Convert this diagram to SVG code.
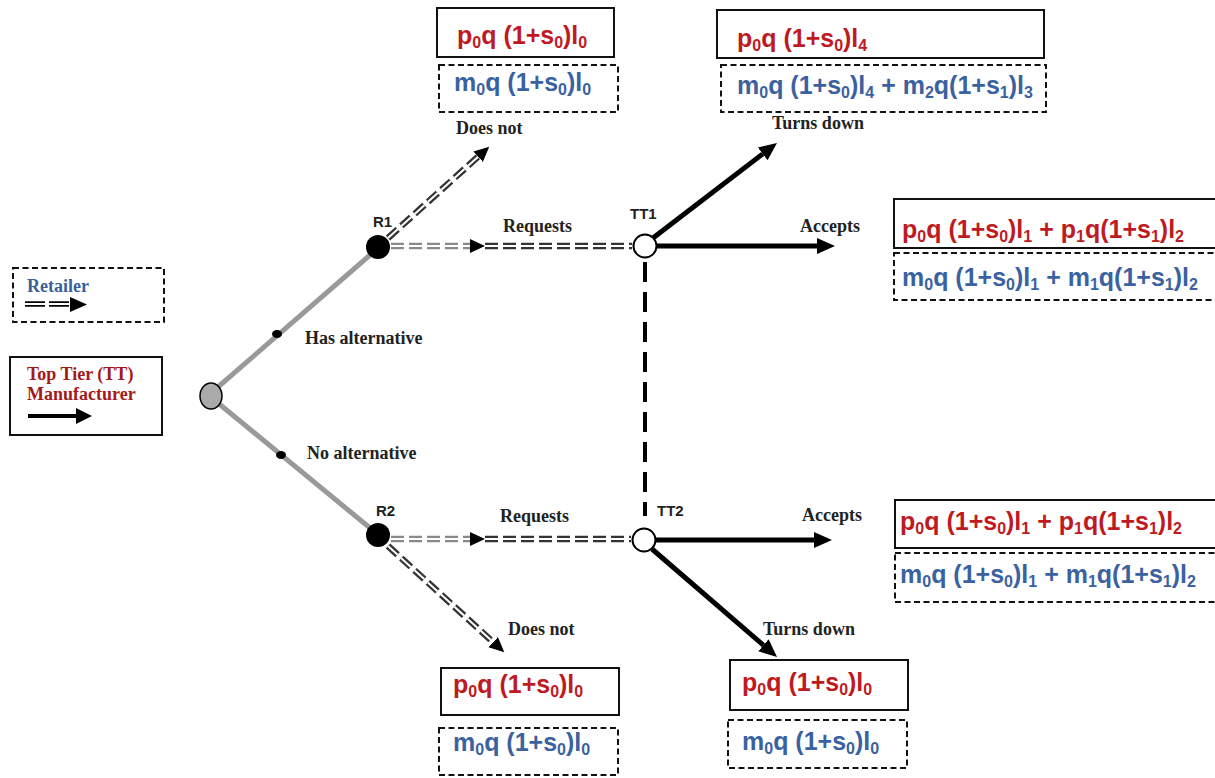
<svg xmlns="http://www.w3.org/2000/svg" width="1215" height="778" viewBox="0 0 1215 778">
<style>
.f{font-family:"Liberation Sans",Arial,sans-serif;font-weight:bold;font-size:25px}
.sb{font-size:16px}
.r{fill:#bf1a1f}
.b{fill:#3b62a0}
.lbl{font-family:"Liberation Serif","Times New Roman",serif;font-weight:bold;font-size:18px;fill:#222}
.nd{font-family:"Liberation Sans",Arial,sans-serif;font-weight:bold;font-size:15px;fill:#222}
.sbox{fill:#fff;stroke:#111;stroke-width:2}
.dbox{fill:#fff;stroke:#111;stroke-width:2;stroke-dasharray:6 3.5}
.thick{stroke:#000;stroke-width:5;fill:none}
.dbl{stroke:#333;stroke-width:6.5;stroke-dasharray:13 5;fill:none}
.dblg{stroke:#8a8a8a;stroke-width:6.5;stroke-dasharray:13 5;fill:none}
.dblw{stroke:#fff;stroke-width:2;stroke-dasharray:13 5;fill:none}
</style>
<defs>
<marker id="ah" markerUnits="userSpaceOnUse" markerWidth="20" markerHeight="18" refX="0" refY="8" orient="auto">
<path d="M0,0 L18,8 L0,16 z" fill="#000"/>
</marker>
<marker id="ar" markerUnits="userSpaceOnUse" markerWidth="17" markerHeight="16" refX="0" refY="7" orient="auto">
<path d="M0,0 L15,7 L0,14 z" fill="#000"/>
</marker>
</defs>
<rect width="1215" height="778" fill="#fff"/>

<g id="connectors">
<line x1="218" y1="387" x2="370" y2="255" stroke="#999" stroke-width="5"/>
<line x1="218" y1="403" x2="370" y2="528" stroke="#999" stroke-width="5"/>
<ellipse cx="277" cy="334" rx="5" ry="4" fill="#000"/>
<ellipse cx="281" cy="455" rx="5" ry="4" fill="#000"/>
<line x1="645" y1="262" x2="645" y2="516" stroke="#000" stroke-width="4" stroke-dasharray="20 10"/>
<line class="dblg" x1="391" y1="246" x2="470" y2="246" marker-end="url(#ar)"/>
<line class="dblw" x1="391" y1="246" x2="470" y2="246"/>
<line class="dbl" x1="485" y1="246" x2="632" y2="246"/>
<line class="dblw" x1="485" y1="246" x2="632" y2="246"/>
<line class="dbl" x1="388" y1="238" x2="478.1" y2="156.7" marker-end="url(#ar)"/>
<line class="dblw" x1="388" y1="238" x2="478.1" y2="156.7"/>
<line class="dblg" x1="391" y1="539" x2="470" y2="539" marker-end="url(#ar)"/>
<line class="dblw" x1="391" y1="539" x2="470" y2="539"/>
<line class="dbl" x1="485" y1="539" x2="631" y2="539"/>
<line class="dblw" x1="485" y1="539" x2="631" y2="539"/>
<line class="dbl" x1="388" y1="546" x2="493.2" y2="642.2" marker-end="url(#ar)"/>
<line class="dblw" x1="388" y1="546" x2="493.2" y2="642.2"/>
<line class="thick" x1="653" y1="238" x2="762.7" y2="153.9" marker-end="url(#ah)"/>
<line class="thick" x1="656" y1="246" x2="817" y2="246" marker-end="url(#ah)"/>
<line class="thick" x1="656" y1="540" x2="814" y2="540" marker-end="url(#ah)"/>
<line class="thick" x1="652" y1="549" x2="763.4" y2="645.2" marker-end="url(#ah)"/>
</g>

<g id="labels">
<text class="lbl" x="456" y="134">Does not</text>
<text class="lbl" x="503" y="232">Requests</text>
<text class="lbl" x="305" y="344">Has alternative</text>
<text class="lbl" x="307" y="459">No alternative</text>
<text class="lbl" x="500" y="522">Requests</text>
<text class="lbl" x="508" y="635">Does not</text>
<text class="lbl" x="800" y="232">Accepts</text>
<text class="lbl" x="802" y="521">Accepts</text>
<text class="lbl" x="772" y="129">Turns down</text>
<text class="lbl" x="763" y="635">Turns down</text>
</g>

<g id="root"><ellipse cx="211" cy="396" rx="11" ry="13" fill="#aaa" stroke="#000" stroke-width="1.5"/></g>
<g id="R1"><circle cx="378" cy="247" r="12" fill="#000"/><text class="nd" x="373" y="227">R1</text></g>
<g id="R2"><circle cx="378" cy="535" r="12" fill="#000"/><text class="nd" x="376" y="516">R2</text></g>
<g id="TT1"><circle cx="645" cy="246" r="11.5" fill="#fff" stroke="#000" stroke-width="2"/><text class="nd" x="630" y="219">TT1</text></g>
<g id="TT2"><circle cx="644" cy="540" r="11.5" fill="#fff" stroke="#000" stroke-width="2"/><text class="nd" x="657" y="516">TT2</text></g>

<g id="legend-retailer">
<rect class="dbox" x="13" y="268" width="151" height="54"/>
<text class="lbl" x="27" y="292" style="fill:#3b5f9b">Retailer</text>
<line x1="25" y1="304" x2="70" y2="304" stroke="#000" stroke-width="5.5" stroke-dasharray="20 4"/>
<line x1="25" y1="304" x2="70" y2="304" stroke="#fff" stroke-width="1.8"/>
<path d="M70,297 L87,304.5 L70,312 z" fill="#000"/>
</g>
<g id="legend-tt">
<rect class="sbox" x="10" y="357" width="152" height="78"/>
<text class="lbl" x="27" y="380" style="fill:#a3191c">Top Tier (TT)</text>
<text class="lbl" x="27" y="400" style="fill:#a3191c">Manufacturer</text>
<line x1="28" y1="416" x2="77" y2="416" stroke="#000" stroke-width="4"/>
<path d="M76,408 L92,416 L76,424 z" fill="#000"/>
</g>

<g id="payoff-r1-doesnot">
<rect class="sbox" x="437" y="8" width="177" height="49"/>
<text class="f r" x="457" y="44">p<tspan class="sb" dy="4">0</tspan><tspan dy="-4">q (1+s</tspan><tspan class="sb" dy="4">0</tspan><tspan dy="-4">)l</tspan><tspan class="sb" dy="4">0</tspan></text>
<rect class="dbox" x="439" y="65" width="179" height="47"/>
<text class="f b" x="454" y="91">m<tspan class="sb" dy="4">0</tspan><tspan dy="-4">q (1+s</tspan><tspan class="sb" dy="4">0</tspan><tspan dy="-4">)l</tspan><tspan class="sb" dy="4">0</tspan></text>
</g>

<g id="payoff-tt1-turnsdown">
<rect class="sbox" x="717" y="10" width="327" height="48"/>
<text class="f r" x="737" y="47">p<tspan class="sb" dy="4">0</tspan><tspan dy="-4">q (1+s</tspan><tspan class="sb" dy="4">0</tspan><tspan dy="-4">)l</tspan><tspan class="sb" dy="4">4</tspan></text>
<rect class="dbox" x="721" y="65" width="325" height="47"/>
<text class="f b" x="737" y="94">m<tspan class="sb" dy="4">0</tspan><tspan dy="-4">q (1+s</tspan><tspan class="sb" dy="4">0</tspan><tspan dy="-4">)l</tspan><tspan class="sb" dy="4">4</tspan><tspan dy="-4"> + m</tspan><tspan class="sb" dy="4">2</tspan><tspan dy="-4">q(1+s</tspan><tspan class="sb" dy="4">1</tspan><tspan dy="-4">)l</tspan><tspan class="sb" dy="4">3</tspan></text>
</g>

<g id="payoff-tt1-accepts">
<rect class="sbox" x="894" y="199" width="330" height="49"/>
<text class="f r" x="902" y="238">p<tspan class="sb" dy="4">0</tspan><tspan dy="-4">q (1+s</tspan><tspan class="sb" dy="4">0</tspan><tspan dy="-4">)l</tspan><tspan class="sb" dy="4">1</tspan><tspan dy="-4"> + p</tspan><tspan class="sb" dy="4">1</tspan><tspan dy="-4">q(1+s</tspan><tspan class="sb" dy="4">1</tspan><tspan dy="-4">)l</tspan><tspan class="sb" dy="4">2</tspan></text>
<rect class="dbox" x="894" y="253" width="330" height="47"/>
<text class="f b" x="902" y="286">m<tspan class="sb" dy="4">0</tspan><tspan dy="-4">q (1+s</tspan><tspan class="sb" dy="4">0</tspan><tspan dy="-4">)l</tspan><tspan class="sb" dy="4">1</tspan><tspan dy="-4"> + m</tspan><tspan class="sb" dy="4">1</tspan><tspan dy="-4">q(1+s</tspan><tspan class="sb" dy="4">1</tspan><tspan dy="-4">)l</tspan><tspan class="sb" dy="4">2</tspan></text>
</g>

<g id="payoff-tt2-accepts">
<rect class="sbox" x="895" y="500" width="330" height="48"/>
<text class="f r" x="900" y="530">p<tspan class="sb" dy="4">0</tspan><tspan dy="-4">q (1+s</tspan><tspan class="sb" dy="4">0</tspan><tspan dy="-4">)l</tspan><tspan class="sb" dy="4">1</tspan><tspan dy="-4"> + p</tspan><tspan class="sb" dy="4">1</tspan><tspan dy="-4">q(1+s</tspan><tspan class="sb" dy="4">1</tspan><tspan dy="-4">)l</tspan><tspan class="sb" dy="4">2</tspan></text>
<rect class="dbox" x="895" y="553" width="330" height="49"/>
<text class="f b" x="900" y="583">m<tspan class="sb" dy="4">0</tspan><tspan dy="-4">q (1+s</tspan><tspan class="sb" dy="4">0</tspan><tspan dy="-4">)l</tspan><tspan class="sb" dy="4">1</tspan><tspan dy="-4"> + m</tspan><tspan class="sb" dy="4">1</tspan><tspan dy="-4">q(1+s</tspan><tspan class="sb" dy="4">1</tspan><tspan dy="-4">)l</tspan><tspan class="sb" dy="4">2</tspan></text>
</g>

<g id="payoff-r2-doesnot">
<rect class="sbox" x="441" y="668" width="178" height="47"/>
<text class="f r" x="453" y="693">p<tspan class="sb" dy="4">0</tspan><tspan dy="-4">q (1+s</tspan><tspan class="sb" dy="4">0</tspan><tspan dy="-4">)l</tspan><tspan class="sb" dy="4">0</tspan></text>
<rect class="dbox" x="439" y="728" width="179" height="47"/>
<text class="f b" x="453" y="751">m<tspan class="sb" dy="4">0</tspan><tspan dy="-4">q (1+s</tspan><tspan class="sb" dy="4">0</tspan><tspan dy="-4">)l</tspan><tspan class="sb" dy="4">0</tspan></text>
</g>

<g id="payoff-tt2-turnsdown">
<rect class="sbox" x="730" y="660" width="178" height="50"/>
<text class="f r" x="742" y="691">p<tspan class="sb" dy="4">0</tspan><tspan dy="-4">q (1+s</tspan><tspan class="sb" dy="4">0</tspan><tspan dy="-4">)l</tspan><tspan class="sb" dy="4">0</tspan></text>
<rect class="dbox" x="728" y="720" width="179" height="48"/>
<text class="f b" x="742" y="750">m<tspan class="sb" dy="4">0</tspan><tspan dy="-4">q (1+s</tspan><tspan class="sb" dy="4">0</tspan><tspan dy="-4">)l</tspan><tspan class="sb" dy="4">0</tspan></text>
</g>
</svg>
